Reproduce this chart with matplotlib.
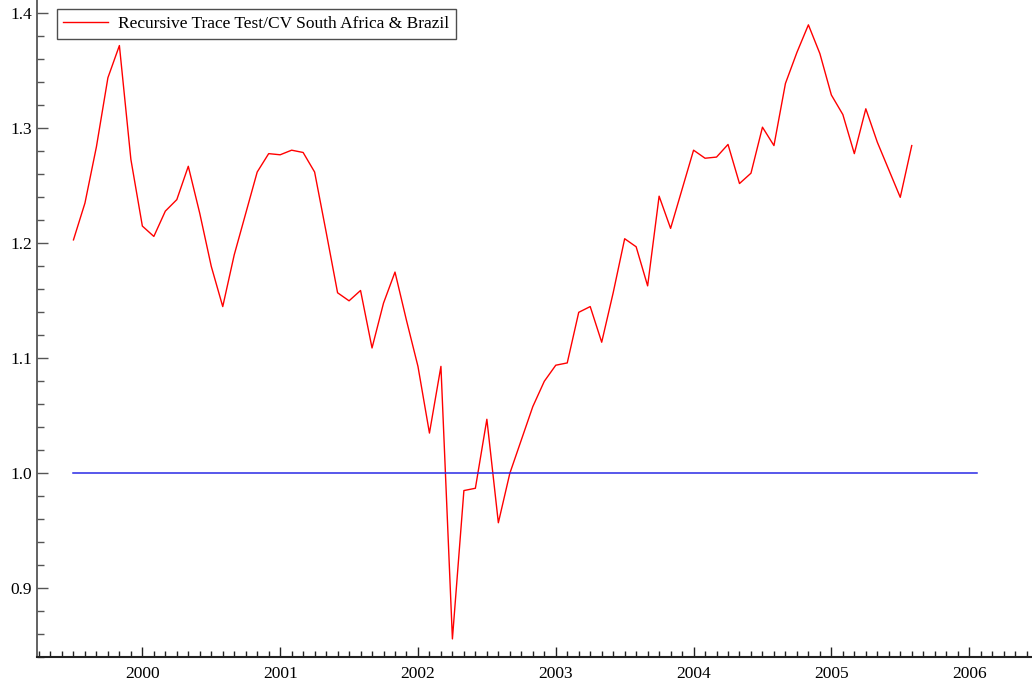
import matplotlib

matplotlib.use("Agg")
import matplotlib.pyplot as plt  # noqa: E402
import numpy as np  # noqa: E402
from matplotlib.ticker import MultipleLocator  # noqa: E402

# monthly recursive trace test / critical value, Jul 1999 .. Aug 2005
start_year = 1999.5
trace_cv = [
    1.203, 1.235, 1.284, 1.344, 1.372, 1.273, 1.215, 1.206, 1.228, 1.238,
    1.267, 1.226, 1.180, 1.145, 1.190, 1.226, 1.262, 1.278, 1.277, 1.281,
    1.279, 1.262, 1.210, 1.157, 1.150, 1.159, 1.109, 1.148, 1.175, 1.133,
    1.093, 1.035, 1.093, 0.856, 0.985, 0.987, 1.047, 0.957, 1.000, 1.029,
    1.058, 1.080, 1.094, 1.096, 1.140, 1.145, 1.114, 1.157, 1.204, 1.197,
    1.163, 1.241, 1.213, 1.247, 1.281, 1.274, 1.275, 1.286, 1.252, 1.261,
    1.301, 1.285, 1.339, 1.366, 1.390, 1.365, 1.329, 1.312, 1.278, 1.317,
    1.288, 1.264, 1.240, 1.285,
]
ref_x = [1999.5, 2006.06]
ref_y = [1.0, 1.0]
years = [2000, 2001, 2002, 2003, 2004, 2005, 2006]
label = "Recursive Trace Test/CV South Africa & Brazil"

dates = start_year + np.arange(len(trace_cv)) / 12.0

plt.rcParams["font.family"] = ["Liberation Serif", "DejaVu Serif"]
fig = plt.figure(figsize=(10.32, 6.89), dpi=100)
ax = fig.add_axes([0.0362, 0.046, 0.9638, 0.954])

ax.plot(dates, trace_cv, color="#ff0000", lw=1.0, label=label)
ax.plot(ref_x, ref_y, color="#2a2ae6", lw=1.1)

ax.set_xlim(1999.238, 2006.456)
ax.set_ylim(0.84, 1.4116)

for side in ("top", "right"):
    ax.spines[side].set_visible(False)
ax.spines["left"].set_color("#555555")
ax.spines["left"].set_linewidth(1.3)
ax.spines["bottom"].set_color("#222222")
ax.spines["bottom"].set_linewidth(1.5)

ax.set_xticks(years)
ax.set_xticklabels([str(y) for y in years])
ax.xaxis.set_minor_locator(MultipleLocator(1 / 12))
ax.yaxis.set_major_locator(MultipleLocator(0.1))
ax.yaxis.set_minor_locator(MultipleLocator(0.02))

ax.tick_params(axis="x", which="major", direction="in", length=7, width=1.0,
               color="#222222", labelsize=12.5, pad=6)
ax.tick_params(axis="x", which="minor", direction="in", length=4, width=1.0,
               color="#222222")
ax.tick_params(axis="y", which="major", direction="in", length=8, width=1.0,
               color="#555555", labelsize=12.5, pad=4)
ax.tick_params(axis="y", which="minor", direction="in", length=5, width=1.0,
               color="#555555")

leg = ax.legend(loc="upper left", bbox_to_anchor=(0.0195, 0.986), borderaxespad=0,
                fontsize=12.5, frameon=True, fancybox=False, handlelength=2.6,
                handletextpad=0.55, borderpad=0.38)
leg.get_frame().set_edgecolor("#222222")
leg.get_frame().set_linewidth(1.0)

fig.savefig("out.png", dpi=100)
